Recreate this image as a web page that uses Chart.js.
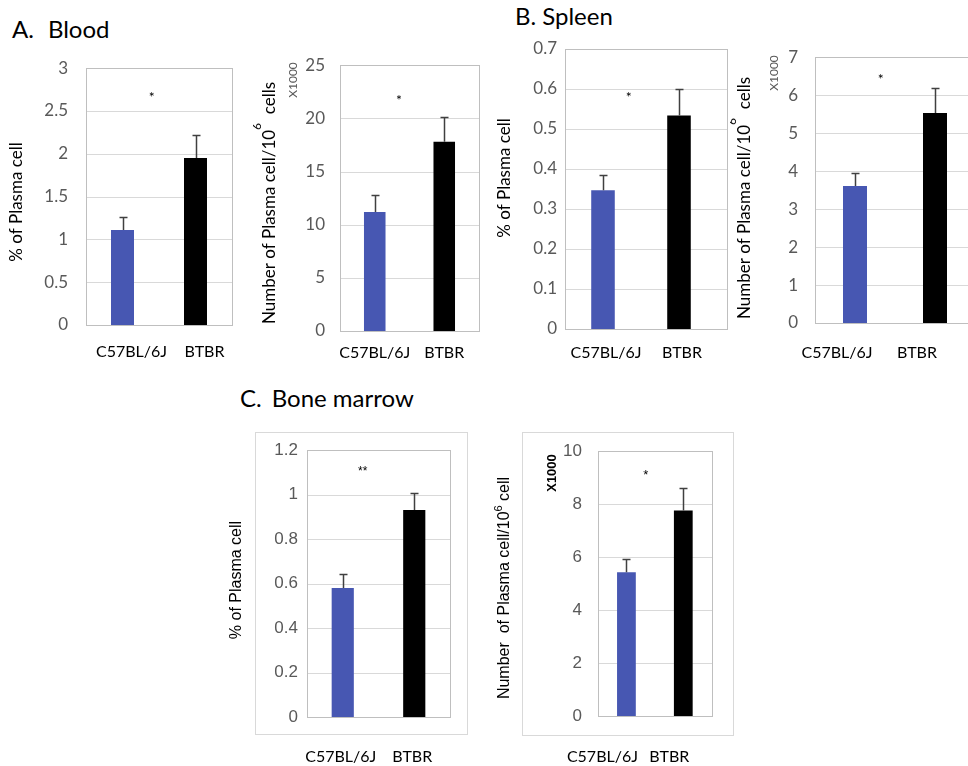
<!DOCTYPE html>
<html><head><meta charset="utf-8">
<script src="https://cdn.jsdelivr.net/npm/chart.js@4/dist/chart.umd.min.js"></script>
<style>
html,body{margin:0;padding:0;background:#fff;width:968px;height:766px;overflow:hidden;position:relative;}
canvas{position:absolute;}
.hd{position:absolute;font-family:Lato,sans-serif;font-size:24px;line-height:24px;color:#000;white-space:pre;}
</style></head><body>
<div class="hd" style="left:12px;top:17px">A.<span style="margin-left:14px">Blood</span></div>
<div class="hd" style="left:515px;top:4px">B.<span style="margin-left:6px">Spleen</span></div>
<div class="hd" style="left:240px;top:386px">C.<span style="margin-left:10px">Bone marrow</span></div>
<canvas id="cA1" width="240" height="330" style="left:0px;top:40px"></canvas>
<canvas id="cA2" width="250" height="330" style="left:240px;top:40px"></canvas>
<canvas id="cB1" width="250" height="340" style="left:490px;top:30px"></canvas>
<canvas id="cB2" width="250" height="340" style="left:730px;top:30px"></canvas>
<canvas id="cC1" width="255" height="341" style="left:220px;top:425px"></canvas>
<canvas id="cC2" width="260" height="341" style="left:480px;top:425px"></canvas>
<script>
// ---- data ----
const strains = ['C57BL/6J', 'BTBR'];
const bloodPct = [1.11, 1.95];
const bloodPctErr = [0.15, 0.27];
const bloodNum = [11.2, 17.8];
const bloodNumErr = [1.6, 2.3];
const spleenPct = [0.347, 0.534];
const spleenPctErr = [0.037, 0.066];
const spleenNum = [3.61, 5.53];
const spleenNumErr = [0.34, 0.65];
const marrowPct = [0.58, 0.93];
const marrowPctErr = [0.063, 0.078];
const marrowNum = [5.43, 7.76];
const marrowNumErr = [0.50, 0.86];
const bloodPctTicks = ['0','0.5','1','1.5','2','2.5','3'];
const bloodNumTicks = ['0','5','10','15','20','25'];
const spleenPctTicks = ['0','0.1','0.2','0.3','0.4','0.5','0.6','0.7'];
const spleenNumTicks = ['0','1','2','3','4','5','6','7'];
const marrowPctTicks = ['0','0.2','0.4','0.6','0.8','1','1.2'];
const marrowNumTicks = ['0','2','4','6','8','10'];
const sigMarks = ['*', '*', '*', '*', '**', '*'];
const sigLevels = [2.6, 21.3, 0.577, 6.33, 1.11, 9.12];

const BLUE = '#4757B2', BLACK = '#000000';
const LATO = 'Lato, "Open Sans", sans-serif';
const ARIAL = '"Liberation Sans", Arial, sans-serif';

function drawRich(ctx, t) {
  ctx.save();
  ctx.fillStyle = t.color || '#000';
  ctx.textBaseline = 'middle';
  ctx.textAlign = 'left';
  let total = 0;
  const widths = t.parts.map(p => { ctx.font = p.font; const w = ctx.measureText(p.s).width; total += w; return w; });
  ctx.translate(t.x, t.y);
  ctx.rotate(-Math.PI / 2);
  let cx = -total / 2;
  t.parts.forEach((p, i) => { ctx.font = p.font; ctx.fillText(p.s, cx, p.dy || 0); cx += widths[i]; });
  ctx.restore();
}

const deco = {
  id: 'deco',
  beforeDatasetsDraw(chart, args, o) {
    const {ctx, chartArea: a} = chart;
    const ys = chart.scales.y;
    ctx.save();
    if (o.frame) {
      ctx.strokeStyle = o.frame.color; ctx.lineWidth = 1;
      ctx.strokeRect(o.frame.x + 0.5, o.frame.y + 0.5, o.frame.w, o.frame.h);
    }
    const L = Math.round(a.left) + 0.5;
    const R = Math.round(a.right + (o.extendRight || 0)) + 0.5;
    ctx.strokeStyle = o.gridColor; ctx.lineWidth = 1;
    ys.ticks.forEach(t => {
      const y = Math.round(ys.getPixelForValue(t.value)) + 0.5;
      ctx.beginPath(); ctx.moveTo(L, y); ctx.lineTo(R, y); ctx.stroke();
    });
    ctx.strokeStyle = o.boxColor;
    const T = Math.round(a.top) + 0.5, B = Math.round(a.bottom) + 0.5;
    ctx.strokeRect(L, T, R - L, B - T);
    ctx.restore();
  },
  afterDatasetsDraw(chart, args, o) {
    const {ctx} = chart;
    const meta = chart.getDatasetMeta(0);
    const ys = chart.scales.y, xs = chart.scales.x;
    const vals = chart.data.datasets[0].data;
    ctx.save();
    ctx.strokeStyle = '#404040'; ctx.lineWidth = 1.5;
    o.err.forEach((e, i) => {
      const el = meta.data[i];
      const x = Math.round(el.x) + 0.5;
      const y0 = ys.getPixelForValue(vals[i]);
      const y1 = Math.round(ys.getPixelForValue(vals[i] + e)) + 0.5;
      ctx.beginPath(); ctx.moveTo(x, y0); ctx.lineTo(x, y1);
      ctx.moveTo(x - o.cap, y1); ctx.lineTo(x + o.cap, y1); ctx.stroke();
    });
    const x0 = xs.getPixelForValue(0), x1 = xs.getPixelForValue(1);
    ctx.fillStyle = '#000'; ctx.font = o.starFont; ctx.textAlign = 'center'; ctx.textBaseline = 'middle';
    ctx.fillText(o.star, x0 + (x1 - x0) * o.starPos, ys.getPixelForValue(o.starLevel) + o.starDy);
    (o.texts || []).forEach(t => drawRich(ctx, t));
    ctx.restore();
  }
};

function makeChart(id, c) {
  const pads = c.labelPad || ['', ''];
  return new Chart(document.getElementById(id), {
    type: 'bar',
    data: { labels: strains, datasets: [{ data: c.values, backgroundColor: [BLUE, BLACK], barPercentage: c.barPct, categoryPercentage: 1 }] },
    options: {
      responsive: false, animation: false, devicePixelRatio: 1,
      layout: { padding: { top: c.padTop, right: c.padRight, left: 0, bottom: 0 } },
      plugins: {
        legend: { display: false }, tooltip: { enabled: false },
        deco: {
          err: c.err, cap: 4, gridColor: '#d9d9d9', boxColor: '#bfbfbf', extendRight: c.extendRight || 0,
          frame: c.frame, star: c.star, starPos: c.starPos, starLevel: c.starLevel, starFont: c.starFont || ('14px ' + LATO), starDy: c.starDy || 0,
          texts: c.texts
        }
      },
      scales: {
        x: {
          grid: { display: false, drawTicks: false }, border: { display: false },
          ticks: { font: { family: LATO, size: 16 }, color: '#000', padding: c.xPad, labelOffset: c.labelOffset || 0, maxRotation: 0, autoSkip: false,
                   callback: (v, i) => strains[i] + pads[i] },
          afterFit: s => { s.height = c.xH; }
        },
        y: {
          min: 0, max: c.max,
          grid: { display: false, drawTicks: false }, border: { display: false },
          ticks: { stepSize: c.step, callback: (v, i) => c.tickLabels[i], font: c.tickFont || { family: LATO, size: 17 }, color: '#595959', padding: c.yPad },
          afterFit: s => { s.width = c.yW; }
        }
      }
    },
    plugins: [deco]
  });
}

const T17 = '17px ' + LATO;
makeChart('cA1', {
  values: bloodPct, err: bloodPctErr, tickLabels: bloodPctTicks, max: 3, step: 0.5,
  yW: 86, padTop: 17, padRight: 8, xH: 45, yPad: 18, xPad: 17, labelOffset: 9, barPct: 0.315,
  star: sigMarks[0], starPos: 0.40, starLevel: sigLevels[0], starDy: -5,
  texts: [{ x: 17, y: 162, parts: [{ s: '% of Plasma cell', font: T17 }] }]
});
makeChart('cA2', {
  values: bloodNum, err: bloodNumErr, tickLabels: bloodNumTicks, max: 25, step: 5,
  yW: 100, padTop: 18, padRight: 11, xH: 39, yPad: 15, xPad: 12, labelOffset: 0, barPct: 0.31,
  star: sigMarks[1], starPos: 0.35, starLevel: sigLevels[1], starDy: -4,
  texts: [
    { x: 30, y: 163, parts: [{ s: 'Number of Plasma cell/10', font: T17 }, { s: '6', font: '12px ' + LATO, dy: -13 }, { s: '  cells', font: T17 }] },
    { x: 53, y: 40, color: '#595959', parts: [{ s: 'X1000', font: '12px ' + LATO }] }
  ]
});
makeChart('cB1', {
  values: spleenPct, err: spleenPctErr, tickLabels: spleenPctTicks, max: 0.7, step: 0.1,
  yW: 75, padTop: 19, padRight: 23, extendRight: 10, xH: 41, yPad: 8, xPad: 14, labelOffset: 3, barPct: 0.31,
  star: sigMarks[2], starPos: 0.34, starLevel: sigLevels[2], starDy: -1,
  texts: [{ x: 15, y: 148, parts: [{ s: '% of Plasma cell', font: T17 }] }]
});
makeChart('cB2', {
  values: spleenNum, err: spleenNumErr, tickLabels: spleenNumTicks, max: 7, step: 1,
  yW: 85, padTop: 21, padRight: 5, xH: 47, yPad: 17, xPad: 20, labelOffset: -18, barPct: 0.3,
  star: sigMarks[3], starPos: 0.32, starLevel: sigLevels[3], starDy: -3,
  texts: [
    { x: 15, y: 168, parts: [{ s: 'Number of Plasma cell/10', font: T17 }, { s: '6', font: '12px ' + LATO, dy: -13 }, { s: '  cells', font: T17 }] },
    { x: 44, y: 43, color: '#595959', parts: [{ s: 'X1000', font: '12px ' + LATO }] }
  ]
});
makeChart('cC1', {
  values: marrowPct, err: marrowPctErr, tickLabels: marrowPctTicks, max: 1.2, step: 0.2,
  yW: 87, padTop: 25, padRight: 25, xH: 49, yPad: 9, xPad: 30, labelOffset: -2, barPct: 0.31,
  tickFont: { family: ARIAL, size: 17 },
  frame: { x: 35, y: 7, w: 212, h: 302, color: '#d9d9d9' },
  star: sigMarks[4], starPos: 0.28, starLevel: sigLevels[4], starFont: '12px ' + ARIAL, starDy: 2,
  texts: [{ x: 17, y: 155, parts: [{ s: '% of Plasma cell', font: '16px ' + ARIAL }] }]
});
makeChart('cC2', {
  values: marrowNum, err: marrowNumErr, tickLabels: marrowNumTicks, max: 10, step: 2,
  yW: 118, padTop: 25, padRight: 23, xH: 50, yPad: 16, xPad: 31, labelOffset: -14, barPct: 0.33,
  labelPad: ['\u2003\u2002', ''],
  tickFont: { family: ARIAL, size: 17 },
  frame: { x: 42, y: 7, w: 211, h: 303, color: '#d9d9d9' },
  star: sigMarks[5], starPos: 0.34, starLevel: sigLevels[5], starFont: '13px ' + ARIAL, starDy: 1,
  texts: [
    { x: 25, y: 163, parts: [{ s: 'Number  of Plasma cell/10', font: '16px ' + ARIAL }, { s: '6', font: '11px ' + ARIAL, dy: -6 }, { s: ' cell', font: '16px ' + ARIAL }] },
    { x: 72, y: 48, color: '#000', parts: [{ s: 'X1000', font: 'bold 13px ' + ARIAL }] }
  ]
});
</script>
</body></html>
